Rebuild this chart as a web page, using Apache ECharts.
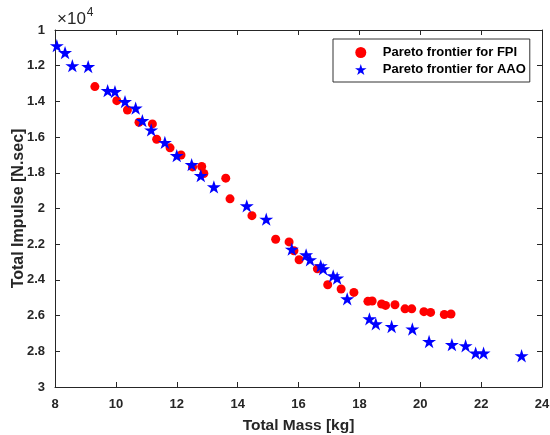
<!DOCTYPE html>
<html>
<head>
<meta charset="utf-8">
<script src="https://cdn.jsdelivr.net/npm/echarts@6/dist/echarts.min.js"></script>
<style>
  html, body { margin: 0; padding: 0; background: #fff; }
  #chart { width: 550px; height: 435px; }
</style>
</head>
<body>
<div id="chart"></div>
<script>
// FPI pareto points: total mass [kg], total impulse [N.sec]
const fpiMass = [9.31, 10.03, 10.38, 10.76, 11.20, 11.34, 11.78, 12.14, 12.52, 12.82, 12.89, 13.61, 13.75,
  14.47, 15.25, 15.69, 15.85, 16.02, 16.62, 16.96, 17.40, 17.82, 18.28, 18.42, 18.73, 18.86, 19.17,
  19.50, 19.72, 20.12, 20.34, 20.79, 21.01];
const fpiImpulse = [13170, 13960, 14480, 15170, 15260, 16120, 16600, 17000, 17670, 17650, 18040, 18300, 19460,
  20400, 21720, 21870, 22370, 22870, 23380, 24270, 24510, 24700, 25200, 25180, 25350, 25430, 25390,
  25620, 25620, 25780, 25820, 25940, 25910];

// AAO pareto points
const aaoMass = [8.06, 8.33, 8.57, 9.09, 9.73, 9.97, 10.30, 10.65, 10.87, 11.16, 11.61, 12.00, 12.49, 12.79,
  13.22, 14.30, 14.94, 15.78, 16.25, 16.38, 16.73, 16.81, 17.14, 17.27, 17.60, 18.33, 18.54, 19.06,
  19.74, 20.29, 21.04, 21.49, 21.82, 22.08, 23.33];
const aaoImpulse = [10880, 11270, 12000, 12050, 13400, 13450, 14010, 14380, 15080, 15600, 16300, 17040, 17540, 18160,
  18790, 19850, 20600, 22280, 22600, 22870, 23210, 23380, 23770, 23900, 25060, 26180, 26460, 26610,
  26750, 27450, 27630, 27690, 28100, 28100, 28250];

const xTicks = [8, 10, 12, 14, 16, 18, 20, 22, 24];
const yTicks = [10000, 12000, 14000, 16000, 18000, 20000, 22000, 24000, 26000, 28000, 30000];

const starPath = 'path://M100,0L122.45,69.1L195.1,69.1L136.3,111.8L158.8,180.9L100,138.2L41.2,180.9L63.7,111.8L4.9,69.1L77.55,69.1Z';
const axisColor = '#262626';
const font = 'Liberation Sans, Arial, sans-serif';

const chart = echarts.init(document.getElementById('chart'));

const boxAxis = {
  min: xTicks[0], max: xTicks[xTicks.length - 1], interval: 2,
  axisLine: { show: true, lineStyle: { color: axisColor, width: 1 } },
  axisTick: { show: true, inside: true, length: 5, lineStyle: { color: axisColor } },
  splitLine: { show: false }
};

chart.setOption({
  animation: false,
  textStyle: { fontFamily: font },
  grid: { left: 55, right: 8, top: 30, bottom: 48, outerBoundsMode: 'none', containLabel: false },
  legend: {
    orient: 'vertical',
    left: 333, top: 39,
    backgroundColor: '#fff',
    borderColor: '#333', borderWidth: 1,
    padding: [7, 4, 6, 22],
    itemGap: 4,
    itemWidth: 34, itemHeight: 11,
    textStyle: { fontFamily: font, fontWeight: 'bold', fontSize: 13, color: '#000' },
    data: ['Pareto frontier for FPI', 'Pareto frontier for AAO']
  },
  xAxis: [
    Object.assign({}, boxAxis, {
      type: 'value', position: 'bottom',
      axisLabel: { color: axisColor, fontWeight: 'bold', fontSize: 13, margin: 11, fontFamily: font },
      name: 'Total Mass [kg]', nameLocation: 'middle', nameGap: 31,
      nameTextStyle: { color: axisColor, fontWeight: 'bold', fontSize: 15.5, fontFamily: font }
    }),
    Object.assign({}, boxAxis, { type: 'value', position: 'top', axisLabel: { show: false } })
  ],
  yAxis: [
    Object.assign({}, boxAxis, {
      type: 'value', inverse: true, position: 'left',
      min: yTicks[0], max: yTicks[yTicks.length - 1], interval: 2000,
      axisLabel: { color: axisColor, fontWeight: 'bold', fontSize: 13, margin: 10, fontFamily: font,
        formatter: v => String(+(v / 10000).toFixed(1)) },
      name: 'Total Impulse [N.sec]', nameLocation: 'middle', nameGap: 28, nameRotate: 90,
      nameMoveOverlap: false,
      nameTextStyle: { color: axisColor, fontWeight: 'bold', fontSize: 16, fontFamily: font }
    }),
    Object.assign({}, boxAxis, {
      type: 'value', inverse: true, position: 'right',
      min: yTicks[0], max: yTicks[yTicks.length - 1], interval: 2000,
      axisLabel: { show: false }
    })
  ],
  graphic: [{
    type: 'text', left: 57, top: 7,
    style: {
      text: '{a|×10}{b|4}',
      rich: {
        a: { fontSize: 17, fill: axisColor, fontFamily: font, padding: [7, 0, 0, 0] },
        b: { fontSize: 12, fill: axisColor, fontFamily: font, padding: [0, 0, 5, 1] }
      }
    }
  }],
  series: [
    {
      name: 'Pareto frontier for FPI', type: 'scatter',
      symbol: 'circle', symbolSize: 9,
      itemStyle: { color: '#ff0000', opacity: 1 },
      data: fpiMass.map((m, i) => [m, fpiImpulse[i]])
    },
    {
      name: 'Pareto frontier for AAO', type: 'scatter',
      symbol: starPath, symbolSize: 14, symbolKeepAspect: true,
      itemStyle: { color: '#0000ff', opacity: 1 },
      data: aaoMass.map((m, i) => [m, aaoImpulse[i]])
    }
  ]
});
</script>
</body>
</html>
